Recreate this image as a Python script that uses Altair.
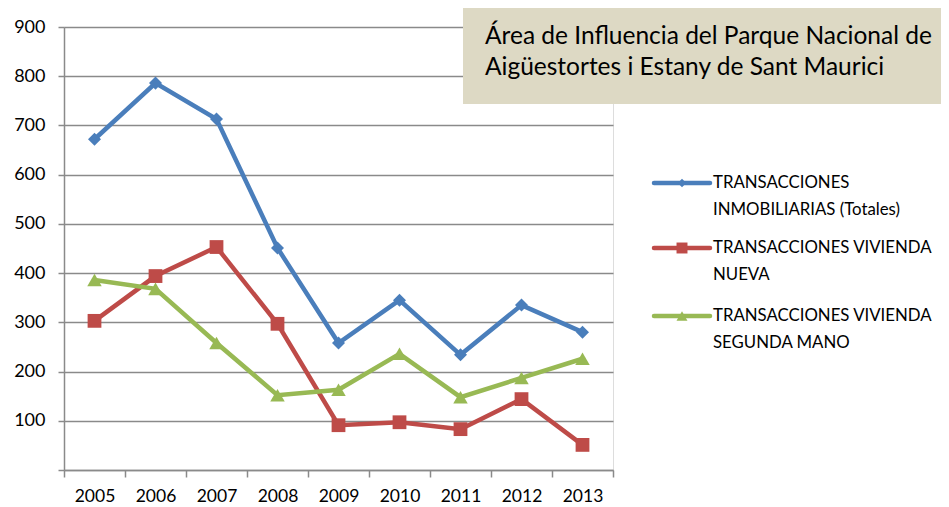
import altair as alt
import pandas as pd

years = ["2005", "2006", "2007", "2008", "2009", "2010", "2011", "2012", "2013"]
series_names = [
    "TRANSACCIONES INMOBILIARIAS (Totales)",
    "TRANSACCIONES VIVIENDA NUEVA",
    "TRANSACCIONES VIVIENDA SEGUNDA MANO",
]
totales = [672, 786, 713, 451, 258, 345, 234, 335, 280]
nueva = [303, 394, 453, 297, 91, 97, 83, 144, 51]
segunda = [386, 368, 258, 152, 163, 236, 148, 187, 226]
y_ticks = [0, 100, 200, 300, 400, 500, 600, 700, 800, 900]

colors = ["#4A7EBB", "#BE4B48", "#98B954"]
shapes = ["diamond", "square", "triangle-up"]
sizes = [170, 210, 230]
legend_labels = [
    ["TRANSACCIONES", "INMOBILIARIAS (Totales)"],
    ["TRANSACCIONES VIVIENDA", "NUEVA"],
    ["TRANSACCIONES VIVIENDA", "SEGUNDA MANO"],
]
title_lines = ["Área de Influencia del Parque Nacional de",
               "Aigüestortes i Estany de Sant Maurici"]

FONT = "Lato"

rows = []
for name, vals in zip(series_names, [totales, nueva, segunda]):
    for yr, v in zip(years, vals):
        rows.append({"year": yr, "series": name, "value": v})
df = pd.DataFrame(rows)

xenc = alt.X(
    "year:O",
    bandPosition=0.5,
    sort=years,
    scale=alt.Scale(type="band", domain=years, paddingInner=0, paddingOuter=0),
    axis=alt.Axis(
        title=None, labelAngle=0, tickBand="extent", grid=False,
        domainColor="#8a8a8a", domainWidth=1.5, tickColor="#8a8a8a", tickWidth=1.5,
        tickSize=7, labelPadding=10, labelFontSize=17.5, labelFont=FONT,
        labelColor="#000000",
    ),
)
yenc = alt.Y(
    "value:Q",
    scale=alt.Scale(domain=[0, 900], nice=False, zero=True),
    axis=alt.Axis(
        title=None, values=y_ticks, grid=True, gridColor="#8a8a8a", gridWidth=1.5,
        domainColor="#8a8a8a", domainWidth=1.5, tickColor="#8a8a8a", tickWidth=1.5,
        tickSize=6, labelPadding=13, labelFontSize=18, labelFont=FONT,
        labelColor="#000000",
        labelExpr="datum.value == 0 ? '' : datum.label",
    ),
)
color = alt.Color("series:N", scale=alt.Scale(domain=series_names, range=colors), legend=None)

base = alt.Chart(df)
lines = base.mark_line(strokeWidth=4.5).encode(x=xenc, y=yenc, color=color)
points = base.mark_point(filled=True, opacity=1).encode(
    x=xenc, y=yenc, color=color,
    shape=alt.Shape("series:N", scale=alt.Scale(domain=series_names, range=shapes), legend=None),
    size=alt.Size("series:N", scale=alt.Scale(domain=series_names, range=sizes), legend=None),
)

one = pd.DataFrame({"a": [0]})
box = alt.Chart(one).mark_rect(color="#DDD9C4").encode(
    x=alt.value(399), x2=alt.value(885), y=alt.value(-19), y2=alt.value(77)
)
title = alt.Chart(one).mark_text(
    align="left", baseline="middle", fontSize=24.5, font=FONT, color="#000000",
    lineHeight=31, text=title_lines,
).encode(x=alt.value(421), y=alt.value(10))

legend_layers = []
ly = [156, 221, 289]
for i in range(3):
    legend_layers.append(
        alt.Chart(one).mark_rule(color=colors[i], strokeWidth=4.5, strokeCap="round").encode(
            x=alt.value(590), x2=alt.value(646), y=alt.value(ly[i])
        )
    )
    legend_layers.append(
        alt.Chart(one).mark_point(shape=shapes[i], filled=True, opacity=1, color=colors[i],
                                  size=[70, 120, 120][i]).encode(
            x=alt.value(618), y=alt.value(ly[i])
        )
    )
    legend_layers.append(
        alt.Chart(one).mark_text(
            align="left", baseline="middle", fontSize=16.8, font=FONT, color="#000000",
            lineHeight=27, text=legend_labels[i],
        ).encode(x=alt.value(649), y=alt.value(ly[i]))
    )

chart = alt.layer(lines, points, box, title, *legend_layers).properties(
    width=549, height=443,
    autosize=alt.AutoSizeParams(type="none"),
    padding={"left": 56, "top": 19, "right": 328, "bottom": 37},
).configure_view(stroke=None).configure(background="#ffffff")

chart.save("out.html", embed_options={"renderer": "svg", "actions": False})
